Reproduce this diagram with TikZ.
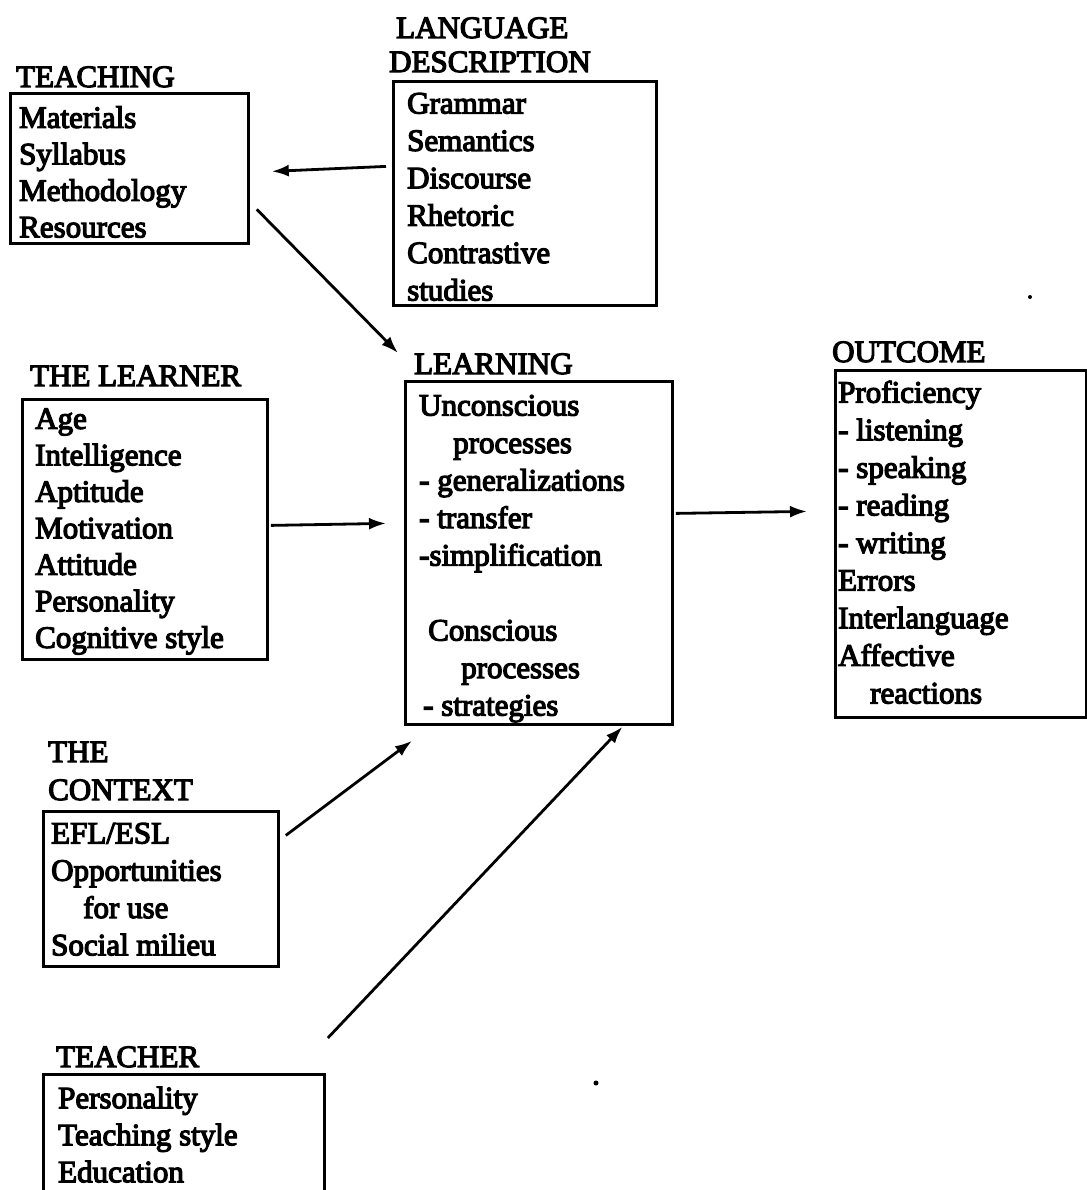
\documentclass[tikz,border=0pt]{standalone}
\usepackage{fontspec}
\newfontfamily\scanfont{Liberation Serif}[FakeBold=4]
\usetikzlibrary{arrows.meta}
\begin{document}
\begin{tikzpicture}[x=1pt,y=-1pt,
  frame/.style={draw, line width=2.8pt, rectangle, inner sep=0pt, anchor=north west},
  items/.style={font=\scanfont\fontsize{31}{#1}\selectfont, align=left, anchor=north west, inner sep=0pt},
  items/.default=37,
  head/.style={font=\scanfont\fontsize{31}{37}\selectfont, anchor=base west, inner sep=0pt},
  link/.style={line width=2.8pt, -{Latex[length=17pt,width=12pt]}}]
\useasboundingbox (0,0) rectangle (1086,1190);

% ---- boxes ----
\node[frame, minimum width=238pt, minimum height=150pt] (teaching) at (9,92) {};
\node[frame, minimum width=263pt, minimum height=224pt] (ld) at (392,80) {};
\node[frame, minimum width=245pt, minimum height=260pt] (learner) at (21,398) {};
\node[frame, minimum width=267pt, minimum height=343pt] (learning) at (404,380) {};
\node[frame, minimum width=251pt, minimum height=347pt] (outcome) at (834,369) {};
\node[frame, minimum width=235pt, minimum height=155pt] (context) at (42,810) {};
\node[frame, minimum width=281pt, minimum height=150pt] (teacher) at (42,1073) {};

% ---- headings ----
\node[head] (teachinghead) at (16,87) {TEACHING};
\node[head] (ldhead1) at (396,38) {LANGUAGE};
\node[head] (ldhead2) at (389,72) {DESCRIPTION};
\node[head] (learnerhead) at (30,386) {THE LEARNER};
\node[head] (learninghead) at (414,374) {LEARNING};
\node[head] (outcomehead) at (832,362) {OUTCOME};
\node[head] (contexthead1) at (48,762) {THE};
\node[head] (contexthead2) at (48,800) {CONTEXT};
\node[head] (teacherhead) at (56,1067) {TEACHER};

% ---- box contents (first baseline = top + 25.9pt of the strut) ----
\node[items=36.5] (teachingtxt) at (19,102.1)
  {\strut Materials\\Syllabus\\Methodology\\Resources};
\node[items=37.4] (ldtxt) at (407,87.1)
  {\strut Grammar\\Semantics\\Discourse\\Rhetoric\\Contrastive\\studies};
\node[items=36.5] (learnertxt) at (35,403.1)
  {\strut Age\\Intelligence\\Aptitude\\Motivation\\Attitude\\Personality\\Cognitive style};
\node[items=37.5] (learningtxt) at (419,389.1)
  {\strut Unconscious\\\hspace*{34pt}processes\\- generalizations\\- transfer\\-simplification\\[37.5pt]%
   \hspace*{9pt}Conscious\\\hspace*{42pt}processes\\\hspace*{4pt}- strategies};
\node[items=37.6] (outcometxt) at (838,376.1)
  {\strut Proficiency\\- listening\\- speaking\\- reading\\- writing\\Errors\\Interlanguage\\Affective\\\hspace*{32pt}reactions};
\node[items=37.3] (contexttxt) at (51,817.1)
  {\strut EFL/ESL\\Opportunities\\\hspace*{32pt}for use\\Social milieu};
\node[items=37] (teachertxt) at (58,1082.1)
  {\strut Personality\\Teaching style\\Education};

% ---- connectors ----
\draw[link] ([xshift=-6pt,yshift=27pt]ld.west) -- ([xshift=22pt,yshift=-3pt]teaching.east);
\draw[link] ([xshift=7pt,yshift=-41pt]teaching.east) -- ([xshift=-6pt,yshift=27pt]learning.north west);
\draw[link] ([xshift=2pt,yshift=4pt]learner.east) -- ([xshift=-18pt,yshift=29.5pt]learning.west);
\draw[link] ([xshift=2pt,yshift=39.5pt]learning.east) -- ([xshift=-27pt,yshift=32.5pt]outcome.west);
\draw[link] ([xshift=6pt,yshift=53.5pt]context.east) -- ([xshift=8pt,yshift=-15pt]learning.south west);
\draw[link] ([xshift=2pt,yshift=35pt]teacher.north east) -- ([xshift=83.5pt,yshift=-1pt]learning.south);

% ---- stray print specks ----
\fill (1030,297) circle (2pt);
\fill (596,1083) circle (2.5pt);
\end{tikzpicture}
\end{document}
